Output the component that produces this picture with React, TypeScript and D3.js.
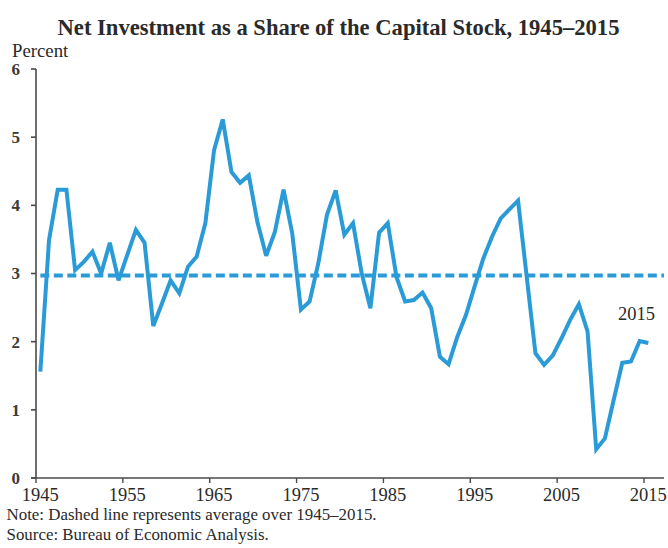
import React from "react";
import * as d3 from "d3";

const startYear = 1945;
const netInvestmentShare: number[] = [
  1.56, 3.49, 4.23, 4.23, 3.05, 3.17, 3.32, 3.0, 3.45, 2.9,
  3.27, 3.64, 3.45, 2.23, 2.56, 2.9, 2.71, 3.1, 3.25, 3.74,
  4.81, 5.26, 4.49, 4.33, 4.44, 3.75, 3.26, 3.61, 4.23, 3.59,
  2.47, 2.59, 3.15, 3.86, 4.22, 3.57, 3.74, 3.0, 2.49, 3.6,
  3.74, 2.95, 2.59, 2.61, 2.72, 2.49, 1.78, 1.67, 2.07, 2.39,
  2.81, 3.22, 3.54, 3.81, 3.94, 4.07, 2.95, 1.83, 1.66, 1.8,
  2.05, 2.32, 2.55, 2.15, 0.42, 0.58, 1.14, 1.69, 1.71, 2.01,
  1.98,
];
const years: number[] = netInvestmentShare.map((_, i) => startYear + i);
const averageValue = 2.97;
const xTickYears: number[] = [1945, 1955, 1965, 1975, 1985, 1995, 2005, 2015];
const yTickValues: number[] = [0, 1, 2, 3, 4, 5, 6];

const title = "Net Investment as a Share of the Capital Stock, 1945\u20132015";
const yLabel = "Percent";
const note = "Note: Dashed line represents average over 1945\u20132015.";
const source = "Source: Bureau of Economic Analysis.";
const endLabel = "2015";

const W = 668;
const H = 548;
const BLUE = "#2b9bd8";
const AXIS = "#4a4a4a";
const TEXT = "#2a2a2a";
const SERIF = "'Liberation Serif', 'Times New Roman', serif";

export default function App() {
  const x = d3.scaleLinear().domain([1945, 2015]).range([36, 644]);
  const y = d3.scaleLinear().domain([0, 6]).range([478, 69]);
  const px = (yr: number) => x(yr + 0.5);

  const line = d3
    .line<number>()
    .x((_, i) => px(years[i]))
    .y((d) => y(d))
    .curve(d3.curveLinear);

  const xAxisEnd = x(2017.3);
  const avgStart = px(1945);

  return (
    <div style={{ position: "absolute", left: 0, top: 0 }}>
      <svg width={W} height={H} style={{ display: "block", background: "#fff" }}>
        <text
          x={338.5}
          y={34.5}
          textAnchor="middle"
          fontFamily={SERIF}
          fontWeight="bold"
          fontSize={22.6}
          fill={TEXT}
        >
          {title}
        </text>
        <text x={12} y={56.5} fontFamily={SERIF} fontSize={18.8} fill={TEXT}>
          {yLabel}
        </text>

        {/* y axis */}
        <line x1={x(1945)} x2={x(1945)} y1={y(0)} y2={y(6)} stroke={AXIS} strokeWidth={1.6} />
        {yTickValues.map((v) => (
          <g key={v}>
            <line x1={x(1945) - 5} x2={x(1945)} y1={y(v)} y2={y(v)} stroke={AXIS} strokeWidth={1.6} />
            <text
              x={20}
              y={y(v)}
              dy="0.35em"
              textAnchor="end"
              fontFamily={SERIF}
              fontSize={17}
              fontWeight="bold"
              fill="#3a3a3a"
            >
              {v}
            </text>
          </g>
        ))}

        {/* x axis */}
        <line x1={x(1945) - 5} x2={xAxisEnd} y1={y(0)} y2={y(0)} stroke={AXIS} strokeWidth={1.6} />
        {xTickYears.map((yr) => (
          <g key={yr}>
            <line x1={x(yr)} x2={x(yr)} y1={y(0)} y2={y(0) + 5} stroke={AXIS} strokeWidth={1.4} />
            <text
              x={px(yr)}
              y={500.5}
              textAnchor="middle"
              fontFamily={SERIF}
              fontSize={18.5}
              fill={TEXT}
            >
              {yr}
            </text>
          </g>
        ))}

        {/* average dashed line */}
        <line
          x1={avgStart}
          x2={xAxisEnd}
          y1={y(averageValue)}
          y2={y(averageValue)}
          stroke={BLUE}
          strokeWidth={4}
          strokeDasharray="9,4.5"
        />

        {/* series */}
        <path
          d={line(netInvestmentShare) || ""}
          fill="none"
          stroke={BLUE}
          strokeWidth={4}
          strokeLinejoin="miter"
          strokeMiterlimit={3}
        />

        <text x={618} y={320} fontFamily={SERIF} fontSize={18.5} fill={TEXT}>
          {endLabel}
        </text>

        <text x={6.5} y={519.5} fontFamily={SERIF} fontSize={16.9} fill={TEXT}>
          {note}
        </text>
        <text x={6.5} y={539.5} fontFamily={SERIF} fontSize={16.9} fill={TEXT}>
          {source}
        </text>
      </svg>
    </div>
  );
}
